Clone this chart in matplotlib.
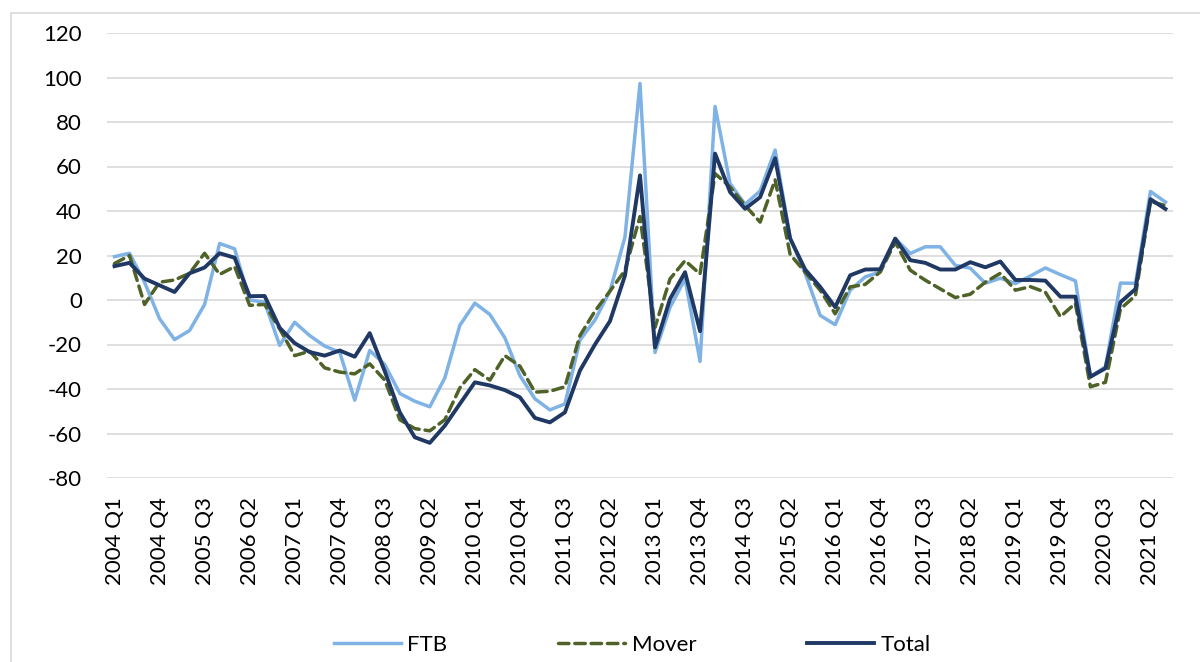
import matplotlib
matplotlib.use("Agg")
import matplotlib.pyplot as plt
from matplotlib.patches import Rectangle

plt.rcParams['font.family'] = ['Lato', 'DejaVu Sans']
plt.rcParams['axes.unicode_minus'] = False

# quarterly series, 2004 Q1 .. 2021 Q3
years = list(range(2004, 2022))
quarters = [f"{y} Q{q}" for y in years for q in range(1, 5)][:71]

ftb = [19.5, 21, 8, -8.4, -17.8, -13.7, -2, 25.4, 23, 0, -1, -20.4, -10, -16,
       -20.7, -23.5, -45, -22.7, -29, -42, -45.5, -48, -35, -11.4, -1.4, -6.5,
       -17, -34, -44.4, -49.4, -46.7, -18, -9, 4, 28.3, 97.3, -23.6, -3.3, 9.5,
       -27.6, 87, 52.3, 43, 49, 67.4, 28, 12, -6.9, -11.1, 4.4, 10.4, 12.6, 27.6,
       20.9, 23.9, 23.9, 15.6, 14.3, 7.5, 9.8, 7.4, 10.8, 14.4, 11.4, 8.6, -34.5,
       -30, 7.6, 7.5, 48.8, 44]
mover = [16.4, 20, -2, 8, 9, 12, 21, 11.5, 15, -2.4, -2, -13, -25, -23, -30.5,
         -32.4, -33.2, -28.7, -36, -53.8, -57.8, -58.8, -53.8, -39.5, -31.3, -36,
         -25, -29.7, -41.4, -41, -39, -16, -5, 4, 13.3, 37.5, -12.3, 9.5, 17.7,
         11.7, 56.8, 50.8, 42.5, 35, 54, 20.5, 12.5, 4.4, -6.2, 5.9, 7, 12.6, 26,
         13.4, 8.9, 5, 1.1, 2.6, 8, 12, 4.4, 6, 3.5, -7.5, -1.5, -39, -37, -4, 2,
         44.3, 42.4]
total = [15.2, 16.7, 9.6, 6.6, 3.6, 12, 14.6, 21, 19, 1.7, 1.8, -12.5, -19.4,
         -23.4, -25, -22.7, -25.5, -14.9, -32, -50.5, -61.7, -64.2, -56.5, -46.7,
         -37, -38.4, -40.5, -43.7, -53, -55, -50.5, -31.7, -20, -9.5, 11, 56,
         -21.3, 0.5, 12.5, -14, 65.8, 48.5, 41, 46.2, 63.7, 27.6, 13.7, 5.9, -3.2,
         11.1, 13.7, 13.8, 27.6, 17.9, 16.7, 13.7, 13.7, 17, 14.7, 17.3, 9, 9, 8.7,
         1.5, 1.5, -34.5, -30.7, -1, 4.9, 45.3, 40.9]

fig = plt.figure(figsize=(12, 6.62), dpi=100)
ax = fig.add_axes([107 / 1200, 1 - 478 / 662, 1066 / 1200, 445 / 662])

x = list(range(len(quarters)))
ax.plot(x, ftb, color='#7FB2E5', lw=2.5, label='FTB')
ax.plot(x, mover, color='#4F6228', lw=2.5, ls=(0, (3, 1.7)),
        dash_capstyle='round', label='Mover')
ax.plot(x, total, color='#1F3864', lw=2.8, label='Total')

ax.set_xlim(-0.5, len(quarters) - 0.5)
ax.set_ylim(-80, 120)
ax.set_yticks(range(-80, 121, 20))
ax.set_xticks(x[::3])
ax.set_xticklabels(quarters[::3], rotation=90)
ax.tick_params(axis='both', length=0, labelsize=16, colors='black')
ax.tick_params(axis='x', pad=14)
ax.tick_params(axis='y', pad=18)
ax.grid(axis='y', color='#D9D9D9', lw=1.2)
ax.set_axisbelow(True)
for s in ax.spines.values():
    s.set_visible(False)

fig.legend(loc='center', bbox_to_anchor=(0.527, 1 - 645 / 662), ncol=3,
           frameon=False, fontsize=16, handlelength=3.0, handletextpad=0.3,
           columnspacing=5.0)

# chart area border
fig.patches.append(Rectangle((11 / 1200, -0.1), 2, 1 - 13 / 662 + 0.1,
                             transform=fig.transFigure, fill=False,
                             edgecolor='#D9D9D9', lw=1.2))

fig.savefig('out.png', dpi=100)
